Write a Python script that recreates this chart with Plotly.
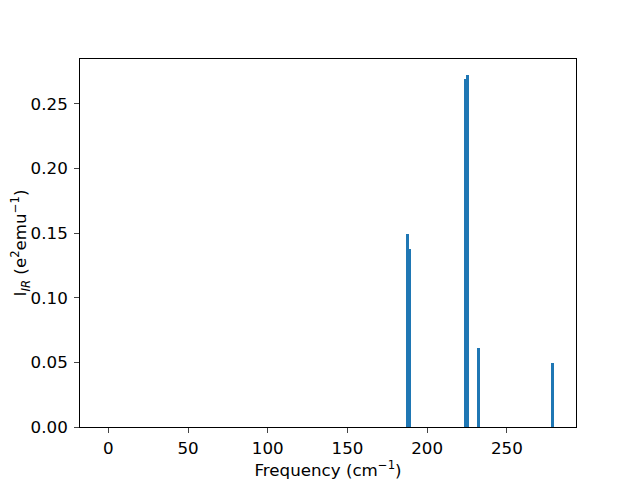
import plotly.graph_objects as go

freqs = [187.6, 188.8, 224.3, 225.5, 232.1, 278.6]
intensities = [0.1494, 0.1378, 0.2693, 0.2724, 0.0611, 0.0495]
bar_width = 1.9

fig = go.Figure()
fig.add_trace(go.Bar(x=freqs, y=intensities, width=[bar_width]*len(freqs),
                     marker=dict(color="#1f77b4", line=dict(width=0))))

tick_font = dict(family="DejaVu Sans", size=16.7, color="black")
title_font = dict(family="DejaVu Sans", size=16.7, color="black")
fig.update_layout(
    width=632, height=472,
    margin=dict(l=72, r=64, t=51, b=53),
    paper_bgcolor="white", plot_bgcolor="white",
    font=tick_font, showlegend=False, bargap=0,
    xaxis=dict(range=[-17.8, 293.4], tick0=0, dtick=50, ticks="outside", ticklen=5,
               tickwidth=0.8, showline=True, linecolor="black", linewidth=0.8, mirror=True,
               showgrid=False, zeroline=False, automargin=False, tickfont=tick_font,
               ticklabelstandoff=1,
               title=dict(text="Frequency (cm<sup>−1</sup>)", standoff=12, font=title_font)),
    yaxis=dict(range=[0, 0.2848], tick0=0, dtick=0.05, tickformat=".2f", ticks="outside",
               ticklen=5, tickwidth=0.8, showline=True, linecolor="black", linewidth=0.8,
               mirror=True, showgrid=False, zeroline=False, automargin=False, tickfont=tick_font,
               ticklabelstandoff=3,
               title=dict(text="I<sub><i>IR</i></sub> (e<sup>2</sup>emu<sup>−1</sup>)",
                          standoff=10, font=title_font)),
)
fig.write_html("out.html")
